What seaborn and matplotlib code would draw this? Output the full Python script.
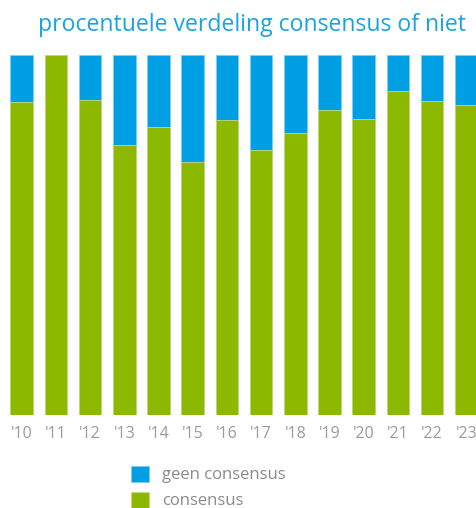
import matplotlib
matplotlib.use("Agg")
import matplotlib.pyplot as plt
from matplotlib.patches import Patch
import seaborn as sns
import pandas as pd

years = ["'10", "'11", "'12", "'13", "'14", "'15", "'16", "'17", "'18", "'19", "'20", "'21", "'22", "'23"]
consensus = [86.7, 100.0, 87.5, 75.0, 79.9, 70.1, 81.9, 73.4, 78.2, 84.6, 82.1, 90.0, 87.0, 86.0]
geen_consensus = [100 - c for c in consensus]

df = pd.DataFrame({"jaar": years, "consensus": consensus, "geen": geen_consensus})
df["totaal"] = df["consensus"] + df["geen"]

BLUE = "#009FE3"
GREEN = "#8DB800"
GREY = "#9A9A9A"

sns.set_theme(style="white")
plt.rcParams["font.family"] = ["Open Sans", "DejaVu Sans"]

fig = plt.figure(figsize=(4.77, 5.08), dpi=100)
ax = fig.add_axes([4.6 / 477, (508 - 415.3) / 508, (483.4 - 4.6) / 477, (415.3 - 54.5) / 508])

sns.barplot(data=df, x="jaar", y="totaal", color=BLUE, saturation=1, width=0.66,
            edgecolor="#7fd0f2", linewidth=0.6, ax=ax)
sns.barplot(data=df, x="jaar", y="consensus", color=GREEN, saturation=1, width=0.66,
            edgecolor="#c4dd80", linewidth=0.6, ax=ax)

ax.set_ylim(0, 100)
ax.set_xlim(-0.5, len(years) - 0.5)
ax.set_xlabel("")
ax.set_ylabel("")
ax.set_yticks([])
for s in ax.spines.values():
    s.set_visible(False)
ax.tick_params(axis="x", length=0, pad=8, labelsize=11.5, labelcolor=GREY)

fig.text(38 / 477, 1 - 25 / 508, "procentuele verdeling consensus of niet",
         color="#1AA3E0", fontsize=16.6, ha="left", va="center")

handles = [Patch(facecolor=BLUE, edgecolor="#7fd0f2", linewidth=0.6),
           Patch(facecolor=GREEN, edgecolor="#c4dd80", linewidth=0.6)]
leg = fig.legend(handles, ["geen consensus", "consensus"], loc="upper left",
                 bbox_to_anchor=(119 / 477, 1 - 454 / 508), frameon=False,
                 fontsize=12, handlelength=1.1, handleheight=1.1, borderpad=0.2,
                 labelspacing=0.5, handletextpad=0.8, labelcolor="#8A8A8A")

fig.savefig("out.png", dpi=100)
